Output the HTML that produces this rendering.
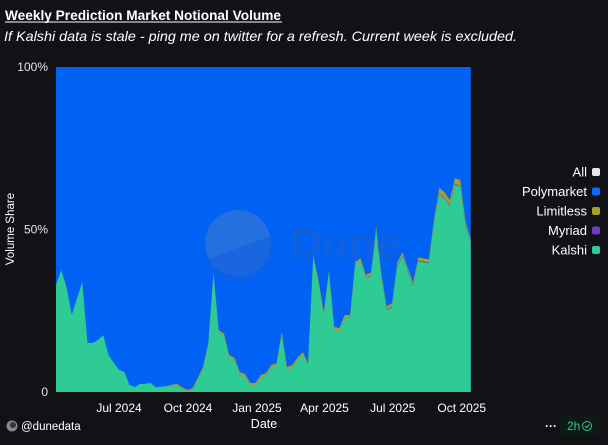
<!DOCTYPE html>
<html><head><meta charset="utf-8"><style>
html,body{margin:0;padding:0;background:#111116;}
body{width:608px;height:445px;overflow:hidden;font-family:"Liberation Sans",sans-serif;}
svg{display:block}
text{font-family:"Liberation Sans",sans-serif;}
</style></head><body>
<svg id="chart" width="608" height="445" viewBox="0 0 608 445" xmlns="http://www.w3.org/2000/svg">
<rect width="608" height="445" fill="#111116"/>
<text x="5" y="20" fill="#ffffff" font-size="13.5" font-weight="bold" textLength="276" lengthAdjust="spacingAndGlyphs">Weekly Prediction Market Notional Volume</text>
<line x1="5" y1="22" x2="282" y2="22" stroke="#fff" stroke-width="1"/>
<text x="4" y="41" fill="#ffffff" font-size="14" font-style="italic" textLength="513" lengthAdjust="spacingAndGlyphs">If Kalshi data is stale - ping me on twitter for a refresh. Current week is excluded.</text>
<g id="plot"></g>
<g opacity="0.3">
<circle cx="238" cy="243" r="33" fill="#7a8fb0"/>
<path d="M205 260 L271 236 A33 33 0 0 1 205 260 Z" fill="#3a5fb0" opacity="0.6"/>
<text x="290" y="258" font-size="44" font-weight="bold" fill="#3a5fb0">Dune</text>
</g>
<g id="yaxis"></g>
<g id="xaxis"></g>
<text transform="translate(14,229) rotate(-90)" text-anchor="middle" fill="#fff" font-size="11.5">Volume Share</text>
<text x="264" y="428" text-anchor="middle" fill="#fff" font-size="12.5">Date</text>
<g id="legend"></g>
<g>
<circle cx="12" cy="426" r="5.5" fill="#888"/><circle cx="13" cy="425" r="3" fill="#333"/>
<text x="21" y="430" fill="#fff" font-size="11.5">@dunedata</text>
</g>
<text x="545" y="430" fill="#fff" font-size="12" font-weight="bold">···</text>
<rect x="560" y="416" width="40" height="20" rx="3" fill="#0f1a14"/>
<text x="567" y="430" fill="#2ecc94" font-size="12">2h</text>
<circle cx="587" cy="426" r="4.5" fill="none" stroke="#2ecc94" stroke-width="1"/>
<path d="M585 426 l1.5 1.5 l3 -3" fill="none" stroke="#2ecc94" stroke-width="1"/>
</svg>
<script>
// Week offsets from 2024-04-08
const weeks = Array.from({length:80},(_,i)=>i);
const kalshi = [32.9,37.5,32.3,23.7,28.8,33.8,15.1,15.1,16,17.5,
11.4,9,6.8,6.2,2.2,1.5,2.5,2.5,2.8,1.5,
1.6,1.8,1.6,1.9,1.0,0.1,0.6,3.6,7.0,14.4,
36.2,18.2,17.2,10.6,9.7,5.4,4.7,2.0,2.0,4.4,
5.0,7.5,8.1,17.7,6.9,7.5,9.7,11.5,8.1,41.2,
33.5,23.6,36.5,19.0,18.7,22.7,22.7,39,40.2,35,
35.6,49.8,35,25.2,26.1,38.7,41.8,37,32.5,40.2,
39.9,39.6,51.9,60.8,59.5,57.1,63.8,63.2,51.3,45.8];
const limitless = [0,0,0,0,0,0,0,0,0,0,
0,0,0,0,0,0,0,0,0,0,
0,0,0.6,0.6,0.5,0.5,0.6,0.7,0.7,0.7,
0.7,0.8,0.8,0.8,0.8,0.8,0.8,0.8,0.8,0.8,
0.8,0.8,0.8,0.8,0.8,0.8,0.8,0.8,0.8,1,
1,1,1,1,1,1,1,1,1,1,
1,1,1,1,1,1,1,1,1,1,
1,1,1,1.8,1.8,1.8,1.8,1.8,1,1];
const myriad = weeks.map(w=> w>=60 ? 0.2 : 0);
const yTicks = [0,50,100];
const yTickLabels = ["0","50%","100%"];
const xTickDates = ["2024-07-01","2024-10-01","2025-01-01","2025-04-01","2025-07-01","2025-10-01"];
const xTickLabels = ["Jul 2024","Oct 2024","Jan 2025","Apr 2025","Jul 2025","Oct 2025"];

const NS="http://www.w3.org/2000/svg";
const X0=56, X1=470.75, Y0=392, Y1=67;
const start=Date.UTC(2024,3,8);
const xW = w => X0 + (w/79)*(X1-X0);
const xDate = s => { const d=(Date.parse(s+"T00:00:00Z")-start)/86400000; return X0 + d*(X1-X0)/(79*7); };
const y = v => Y0 - v/100*(Y0-Y1);
function mk(tag,attrs,parent){const e=document.createElementNS(NS,tag);for(const k in attrs)e.setAttribute(k,attrs[k]);parent.appendChild(e);return e;}
const plot=document.getElementById('plot');
const bg=mk('rect',{x:X0,y:Y1,width:X1-X0,height:Y0-Y1,fill:'#0062f5'},plot);


function area(lo,hi,color,name){
  let d='';
  weeks.forEach((w,i)=>{d+=(i?'L':'M')+xW(w).toFixed(2)+' '+y(hi[i]).toFixed(2);});
  for(let i=weeks.length-1;i>=0;i--) d+='L'+xW(weeks[i]).toFixed(2)+' '+y(lo[i]).toFixed(2);
  const p=mk('path',{d:d+'Z',fill:color},plot);
  
  
}
const zero=weeks.map(()=>0);
const c1=kalshi.slice();
const c2=c1.map((v,i)=>v+myriad[i]);
const c3=c2.map((v,i)=>v+limitless[i]);
area(c2,c3,'#a5a02c','limitless-area');
area(c1,c2,'#6a3fc0','myriad-area');
area(zero,c1,'#2ecc94','kalshi-area');
const ya=document.getElementById('yaxis');
yTicks.forEach((t,i)=>{
  const tx=mk('text',{x:48,y:y(t)+4,'text-anchor':'end',fill:'#e6e6e6','font-size':'12'},ya);
  tx.textContent=yTickLabels[i];
  
  
});
const xa=document.getElementById('xaxis');
xTickDates.forEach((s,i)=>{
  const tx=mk('text',{x:xDate(s),y:412,'text-anchor':'middle',fill:'#fff','font-size':'12'},xa);
  tx.textContent=xTickLabels[i];
  
  
});
const legendNames=["All","Polymarket","Limitless","Myriad","Kalshi"];
const legendColors=["#e6e6e6","#0a6cf5","#a5a02c","#6a3fc0","#2ecc94"];
const lg=document.getElementById('legend');
legendNames.forEach((n,i)=>{
  const yy=172+i*19.5;
  const g=mk('g',{},lg);
  
  
  const t=mk('text',{x:587,y:yy+4.5,'text-anchor':'end',fill:'#fff','font-size':'13'},g);
  t.textContent=n;
  mk('rect',{x:592,y:yy-4,width:8,height:8,rx:2,fill:legendColors[i]},g);
});
</script>
</body></html>
